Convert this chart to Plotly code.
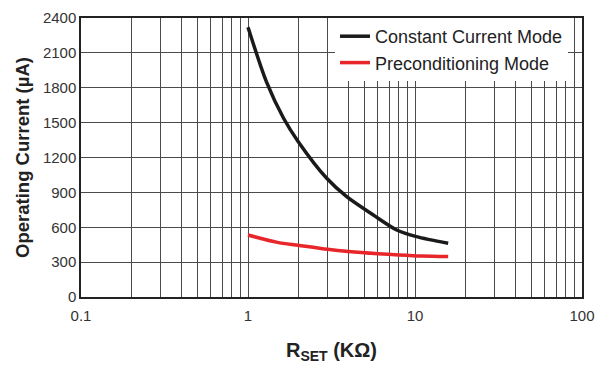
import plotly.graph_objects as go

# Data
r_set_cc = [1.0, 1.29, 1.63, 2.0, 2.96, 3.9, 5.63, 7.77, 10.2, 15.8]
i_cc = [2320, 1850, 1540, 1336, 1021, 863, 705, 576, 519, 462]

r_set_pre = [1.0, 1.5, 2.0, 3.0, 4.0, 6.0, 8.0, 11.0, 15.8]
i_pre = [533, 470, 445, 410, 391, 372, 362, 353, 348]

y_ticks = [0, 300, 600, 900, 1200, 1500, 1800, 2100, 2400]
x_ticks = [0.1, 1, 10, 100]
x_tick_labels = ["0.1", "1", "10", "100"]

FONT = "Liberation Sans, Arial, sans-serif"

fig = go.Figure()
fig.add_trace(go.Scatter(x=r_set_cc, y=i_cc, mode="lines", name="Constant Current Mode",
                         line=dict(color="#1a1a1a", width=3.5, shape="spline", smoothing=0.8)))
fig.add_trace(go.Scatter(x=r_set_pre, y=i_pre, mode="lines", name="Preconditioning Mode",
                         line=dict(color="#e8262a", width=3.5, shape="spline", smoothing=0.8)))

grid_col = "#4a4a4a"
fig.update_layout(
    width=606, height=365,
    margin=dict(l=81, r=24, t=18, b=68),
    plot_bgcolor="white", paper_bgcolor="white",
    font=dict(family=FONT, color="#333333", size=15),
    legend=dict(x=0.507, y=1.0, xanchor="left", yanchor="top",
                bgcolor="white", borderwidth=0,
                font=dict(size=18, color="#222222"),
                tracegroupgap=0, itemwidth=30),
    xaxis=dict(type="log", range=[-1, 2], tickvals=x_ticks, ticktext=x_tick_labels,
               showgrid=True, gridcolor=grid_col, gridwidth=1,
               minor=dict(showgrid=True, gridcolor=grid_col, gridwidth=1, dtick="D1", ticks=""),
               showline=True, linecolor="#222222", linewidth=1.5, mirror=True,
               ticks="", ticklen=0, zeroline=False, ticklabelstandoff=4, automargin=False,
               title=dict(text="<b>R<sub>SET</sub> (KΩ)</b>", font=dict(size=20, color="#222222"),
                          standoff=20),
               tickfont=dict(size=15, color="#333333")),
    yaxis=dict(range=[0, 2400], tickvals=y_ticks,
               showgrid=True, gridcolor=grid_col, gridwidth=1,
               showline=True, linecolor="#222222", linewidth=1.5, mirror=True,
               ticks="", zeroline=False, automargin=False,
               title=dict(text="<b>Operating Current (µA)</b>", font=dict(size=18.5, color="#222222"),
                          standoff=8),
               tickfont=dict(size=15, color="#333333")),
)

fig.write_html("out.html")
